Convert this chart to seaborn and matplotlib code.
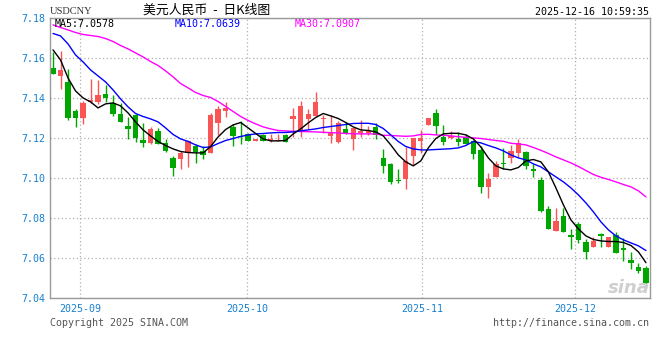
import numpy as np
import pandas as pd
import matplotlib
matplotlib.use("Agg")
import matplotlib.pyplot as plt
import seaborn as sns

# USDCNY daily K-line
opens = [7.1550, 7.1513, 7.1483, 7.1337, 7.1303, 7.1383, 7.1380, 7.1422, 7.1375, 7.1322,
         7.1262, 7.1315, 7.1192, 7.1178, 7.1237, 7.1175, 7.1103, 7.1098, 7.1128, 7.1163,
         7.1138, 7.1128, 7.1275, 7.1338, 7.1257, 7.1212, 7.1222, 7.1187, 7.1215, 7.1192,
         7.1185, 7.1217, 7.1297, 7.1242, 7.1297, 7.1313, 7.1297, 7.1213, 7.1183, 7.1248,
         7.1195, 7.1225, 7.1225, 7.1255, 7.1100, 7.1072, 7.0993, 7.0995, 7.1113, 7.1188,
         7.1268, 7.1327, 7.1205, 7.1201, 7.1197, 7.1205, 7.1188, 7.1142, 7.0958, 7.1008,
         7.1078, 7.1100, 7.1125, 7.1130, 7.1045, 7.0992, 7.0845, 7.0738, 7.0812, 7.0717,
         7.0772, 7.0682, 7.0655, 7.0722, 7.0658, 7.0715, 7.0653, 7.0592, 7.0555, 7.0553]
highs = [7.1630, 7.1637, 7.1545, 7.1345, 7.1387, 7.1495, 7.1492, 7.1467, 7.1415, 7.1375,
         7.1305, 7.1320, 7.1275, 7.1257, 7.1250, 7.1197, 7.1112, 7.1135, 7.1192, 7.1170,
         7.1162, 7.1325, 7.1362, 7.1380, 7.1272, 7.1285, 7.1225, 7.1197, 7.1222, 7.1220,
         7.1222, 7.1222, 7.1350, 7.1385, 7.1345, 7.1430, 7.1318, 7.1315, 7.1288, 7.1280,
         7.1250, 7.1292, 7.1262, 7.1275, 7.1147, 7.1078, 7.1047, 7.1155, 7.1203, 7.1242,
         7.1302, 7.1347, 7.1268, 7.1235, 7.1230, 7.1222, 7.1192, 7.1162, 7.1025, 7.1087,
         7.1150, 7.1167, 7.1195, 7.1137, 7.1070, 7.1008, 7.0862, 7.0852, 7.0850, 7.0745,
         7.0783, 7.0695, 7.0708, 7.0728, 7.0705, 7.0733, 7.0700, 7.0632, 7.0575, 7.0562]
lows = [7.1520, 7.1447, 7.1292, 7.1258, 7.1270, 7.1375, 7.1370, 7.1383, 7.1312, 7.1280,
        7.1197, 7.1183, 7.1158, 7.1170, 7.1170, 7.1130, 7.1013, 7.1045, 7.1055, 7.1075,
        7.1098, 7.1128, 7.1217, 7.1308, 7.1163, 7.1170, 7.1185, 7.1187, 7.1187, 7.1183,
        7.1185, 7.1183, 7.1207, 7.1207, 7.1245, 7.1313, 7.1228, 7.1178, 7.1178, 7.1220,
        7.1142, 7.1208, 7.1215, 7.1195, 7.1025, 7.0972, 7.0975, 7.0945, 7.1067, 7.1125,
        7.1268, 7.1222, 7.1167, 7.1195, 7.1163, 7.1172, 7.1097, 7.0928, 7.0900, 7.1008,
        7.1047, 7.1075, 7.1105, 7.1045, 7.1008, 7.0833, 7.0748, 7.0738, 7.0733, 7.0645,
        7.0675, 7.0597, 7.0655, 7.0658, 7.0658, 7.0625, 7.0588, 7.0547, 7.0528, 7.0455]
closes = [7.1520, 7.1542, 7.1303, 7.1303, 7.1378, 7.1392, 7.1417, 7.1399, 7.1322, 7.1282,
          7.1247, 7.1203, 7.1178, 7.1247, 7.1173, 7.1138, 7.1053, 7.1128, 7.1187, 7.1133,
          7.1115, 7.1317, 7.1347, 7.1352, 7.1213, 7.1208, 7.1187, 7.1197, 7.1187, 7.1197,
          7.1192, 7.1183, 7.1312, 7.1362, 7.1323, 7.1382, 7.1300, 7.1233, 7.1278, 7.1227,
          7.1250, 7.1237, 7.1237, 7.1217, 7.1062, 7.0983, 7.0985, 7.1087, 7.1203, 7.1202,
          7.1302, 7.1263, 7.1183, 7.1212, 7.1183, 7.1172, 7.1122, 7.0958, 7.0995, 7.1072,
          7.1072, 7.1137, 7.1178, 7.1063, 7.1038, 7.0837, 7.0748, 7.0788, 7.0733, 7.0708,
          7.0692, 7.0633, 7.0685, 7.0713, 7.0705, 7.0628, 7.0642, 7.0575, 7.0538, 7.0475]

# moving averages as drawn on the chart
ma5 = [7.1642, 7.1592, 7.1502, 7.1437, 7.1402, 7.1382, 7.1352, 7.1372, 7.1377, 7.1362,
       7.1327, 7.1282, 7.1242, 7.1212, 7.1184, 7.1164, 7.1147, 7.1134, 7.1129, 7.1127,
       7.1127, 7.1159, 7.1207, 7.1244, 7.1267, 7.1279, 7.1252, 7.1224, 7.1197, 7.1187,
       7.1187, 7.1189, 7.1222, 7.1247, 7.1277, 7.1304, 7.1324, 7.1312, 7.1299, 7.1279,
       7.1257, 7.1242, 7.1239, 7.1232, 7.1212, 7.1167, 7.1117, 7.1082, 7.1062, 7.1087,
       7.1152, 7.1199, 7.1222, 7.1225, 7.1225, 7.1217, 7.1197, 7.1157, 7.1102, 7.1062,
       7.1047, 7.1042, 7.1054, 7.1087, 7.1094, 7.1082, 7.1032, 7.0952, 7.0867, 7.0792,
       7.0747, 7.0712, 7.0694, 7.0687, 7.0684, 7.0684, 7.0679, 7.0664, 7.0632, 7.0578]
ma10 = [7.1724, 7.1712, 7.1672, 7.1617, 7.1582, 7.1542, 7.1512, 7.1482, 7.1442, 7.1397,
        7.1357, 7.1324, 7.1309, 7.1297, 7.1282, 7.1252, 7.1219, 7.1197, 7.1184, 7.1167,
        7.1154, 7.1157, 7.1174, 7.1189, 7.1199, 7.1209, 7.1217, 7.1222, 7.1224, 7.1227,
        7.1229, 7.1229, 7.1232, 7.1237, 7.1242, 7.1247, 7.1254, 7.1259, 7.1264, 7.1269,
        7.1274, 7.1275, 7.1275, 7.1269, 7.1249, 7.1217, 7.1184, 7.1159, 7.1147, 7.1142,
        7.1142, 7.1144, 7.1146, 7.1148, 7.1152, 7.1164, 7.1184, 7.1177, 7.1164, 7.1152,
        7.1137, 7.1117, 7.1102, 7.1092, 7.1072, 7.1057, 7.1032, 7.1007, 7.0982, 7.0952,
        7.0917, 7.0877, 7.0832, 7.0782, 7.0742, 7.0712, 7.0692, 7.0677, 7.0662, 7.0639]
ma30 = [7.1767, 7.1754, 7.1742, 7.1729, 7.1719, 7.1714, 7.1709, 7.1699, 7.1684, 7.1664,
        7.1647, 7.1627, 7.1607, 7.1584, 7.1564, 7.1537, 7.1507, 7.1474, 7.1452, 7.1429,
        7.1414, 7.1404, 7.1384, 7.1359, 7.1334, 7.1309, 7.1289, 7.1272, 7.1257, 7.1247,
        7.1239, 7.1237, 7.1235, 7.1234, 7.1233, 7.1232, 7.1230, 7.1228, 7.1227, 7.1224,
        7.1223, 7.1222, 7.1222, 7.1222, 7.1215, 7.1214, 7.1212, 7.1210, 7.1212, 7.1219,
        7.1220, 7.1217, 7.1215, 7.1212, 7.1208, 7.1205, 7.1202, 7.1199, 7.1194, 7.1189,
        7.1185, 7.1175, 7.1172, 7.1167, 7.1154, 7.1140, 7.1124, 7.1107, 7.1092, 7.1077,
        7.1059, 7.1039, 7.1019, 7.1005, 7.0994, 7.0982, 7.0969, 7.0957, 7.0937, 7.0907]

y_ticks = [7.04, 7.06, 7.08, 7.10, 7.12, 7.14, 7.16, 7.18]
month_labels = ["2025-09", "2025-10", "2025-11", "2025-12"]

df = pd.DataFrame({"open": opens, "high": highs, "low": lows, "close": closes,
                   "ma5": ma5, "ma10": ma10, "ma30": ma30})
df["i"] = np.arange(len(df))
df["up"] = df["close"] > df["open"]

sns.set_style("white")
plt.rcParams["font.family"] = ["DejaVu Sans Mono"]

RED = "#f95555"
GREEN = "#00a600"
BLUE_TXT = "#1780d0"
GRID = "#b0b0b0"

fig = plt.figure(figsize=(6.6, 3.6), dpi=100)
ax = fig.add_axes([50 / 660, 1 - 298.3 / 360, 599.5 / 660, 280 / 360])

# candles: wicks then bodies
cols = np.where(df["up"], RED, GREEN)
ax.vlines(df["i"], df["low"], df["high"], colors=cols, lw=1, zorder=2)
body_lo = df[["open", "close"]].min(axis=1)
body_h = (df["close"] - df["open"]).abs().clip(lower=0.0004)
ax.bar(df["i"], body_h, bottom=body_lo, width=0.72, color=cols, lw=0, zorder=2)

# moving averages
sns.lineplot(data=df, x="i", y="ma30", color="#ff00ff", lw=1, ax=ax, zorder=3)
sns.lineplot(data=df, x="i", y="ma10", color="#0000ff", lw=1, ax=ax, zorder=3)
sns.lineplot(data=df, x="i", y="ma5", color="black", lw=1, ax=ax, zorder=4)

ax.set_xlim(-0.4, 79.47)
ax.set_ylim(7.04, 7.18)
ax.set_xlabel("")
ax.set_ylabel("")

# month grid positions (first trading day of each month)
month_pos = [3.64, 25.89, 49.2, 69.55]
ax.set_xticks(month_pos)
ax.set_xticklabels(month_labels)
ax.set_yticks(y_ticks)
ax.set_yticklabels([f"{v:.2f}" for v in y_ticks])
ax.tick_params(axis="both", length=0, labelsize=7.2, colors=BLUE_TXT)
ax.tick_params(axis="y", pad=3)
ax.tick_params(axis="x", pad=4)
ax.grid(True, color=GRID, lw=0.9, linestyle=(0, (1, 2)))
ax.set_axisbelow(True)
for s in ax.spines.values():
    s.set_color("#999999")
    s.set_linewidth(1)

# MA legend inside the plot
ax.text(5 / 599.5, 1 - 6 / 280, "MA5:7.0578", transform=ax.transAxes,
        color="black", fontsize=7.2, va="center", ha="left")
ax.text(125 / 599.5, 1 - 6 / 280, "MA10:7.0639", transform=ax.transAxes,
        color="#0000ff", fontsize=7.2, va="center", ha="left")
ax.text(245 / 599.5, 1 - 6 / 280, "MA30:7.0907", transform=ax.transAxes,
        color="#ff00ff", fontsize=7.2, va="center", ha="left")

# header and footer texts
fig.text(50 / 660, 1 - 12 / 360, "USDCNY", family=["Liberation Serif"],
         fontsize=7.5, color="#333333", va="center", ha="left")
fig.text(207 / 660, 1 - 10 / 360, "美元人民币  -  日K线图",
         family=["Noto Sans CJK SC", "DejaVu Sans"], fontsize=9.3,
         color="black", va="center", ha="center")
fig.text(649 / 660, 1 - 12 / 360, "2025-12-16 10:59:35", fontsize=7.2,
         color="black", va="center", ha="right")
fig.text(50 / 660, 1 - 323.5 / 360, "Copyright 2025 SINA.COM", fontsize=7.2,
         color="#555555", va="center", ha="left")
fig.text(649 / 660, 1 - 323.5 / 360, "http://finance.sina.com.cn", fontsize=7.2,
         color="#555555", va="center", ha="right")

# faint sina watermark
fig.text(629 / 660, 1 - 288 / 360, "sina", family=["DejaVu Sans"], fontsize=13,
         fontweight="bold", style="italic", color="#cfcfcf", va="center", ha="center",
         zorder=1)

fig.savefig("out.png", dpi=100)
